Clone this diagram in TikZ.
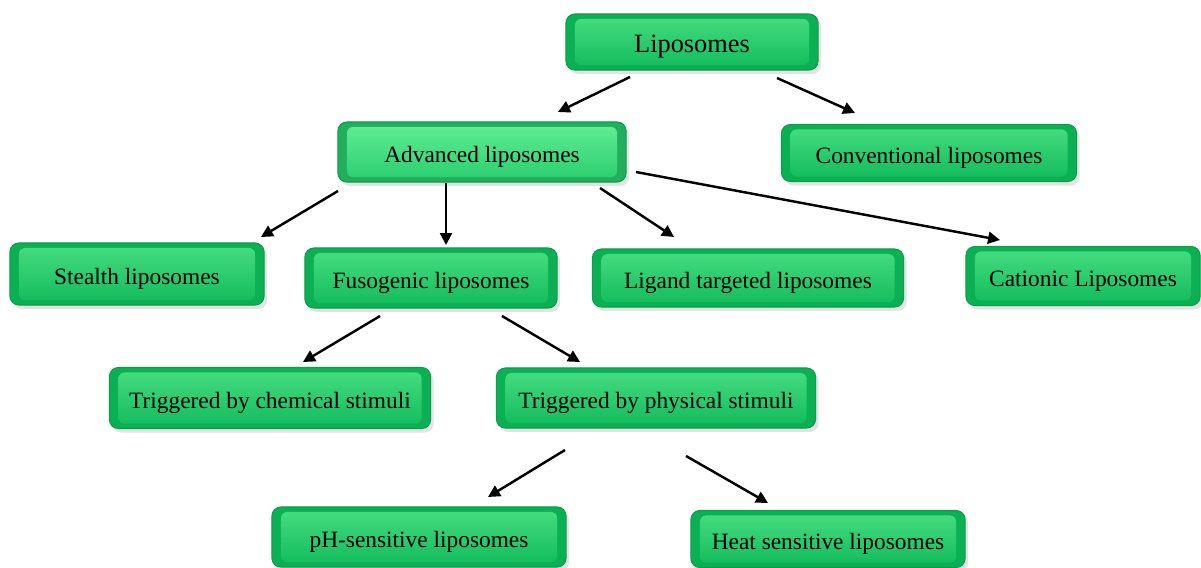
\documentclass[tikz,border=0pt]{standalone}
\usepackage{fontspec}
\setmainfont{Liberation Serif}
\usetikzlibrary{arrows.meta,shadows}
\definecolor{gbase}{RGB}{12,176,84}
\definecolor{gtop}{RGB}{72,222,130}
\definecolor{gbot}{RGB}{16,186,90}
\definecolor{gedge}{RGB}{8,160,76}
\definecolor{ltop}{RGB}{100,238,150}
\definecolor{lbot}{RGB}{40,205,110}
\tikzset{
  box/.style={rounded corners=0.09cm, fill=gbase, draw=gedge, line width=0.3pt,
    drop shadow={opacity=0.22, shadow xshift=0.03cm, shadow yshift=-0.04cm},
    inner sep=0pt, font=\fontsize{6.65pt}{8pt}\selectfont, text=black,
    text height=1.25ex, text depth=0pt,
    path picture={\shade[top color=gtop, bottom color=gbot, rounded corners=0.06cm]
      ([xshift=0.09cm,yshift=-0.05cm]path picture bounding box.north west) rectangle
      ([xshift=-0.09cm,yshift=0.05cm]path picture bounding box.south east);}},
  light/.style={fill=lbot!85!black,
    path picture={\shade[top color=ltop, bottom color=lbot, rounded corners=0.06cm]
      ([xshift=0.09cm,yshift=-0.05cm]path picture bounding box.north west) rectangle
      ([xshift=-0.09cm,yshift=0.05cm]path picture bounding box.south east);}},
  big/.style={font=\fontsize{7.5pt}{9pt}\selectfont},
  arr/.style={-{Triangle[length=3.4pt,width=3.4pt]}, line width=0.7pt, black}
}
\begin{document}
\begin{tikzpicture}[x=0.01cm,y=-0.01cm]
\useasboundingbox (0,0) rectangle (1201,567);
\node[box,big,minimum width=2.52cm,minimum height=0.56cm] (lip) at (692,42) {Liposomes};
\node[box,light,minimum width=2.88cm,minimum height=0.60cm] (adv) at (482,152) {Advanced liposomes};
\node[box,minimum width=2.95cm,minimum height=0.57cm] (conv) at (929,153) {Conventional liposomes};
\node[box,minimum width=2.54cm,minimum height=0.62cm] (stealth) at (137,274) {Stealth liposomes};
\node[box,minimum width=2.52cm,minimum height=0.60cm] (fuso) at (431,278) {Fusogenic liposomes};
\node[box,minimum width=3.11cm,minimum height=0.58cm] (lig) at (748,278) {Ligand targeted liposomes};
\node[box,minimum width=2.34cm,minimum height=0.59cm] (cat) at (1083,276) {Cationic Liposomes};
\node[box,minimum width=3.21cm,minimum height=0.61cm] (chem) at (270,398) {Triggered by chemical stimuli};
\node[box,minimum width=3.19cm,minimum height=0.60cm] (phys) at (656,398) {Triggered by physical stimuli};
\node[box,minimum width=2.94cm,minimum height=0.60cm] (ph) at (419,537) {pH-sensitive liposomes};
\node[box,minimum width=2.74cm,minimum height=0.57cm] (heat) at (828,539) {Heat sensitive liposomes};
% arrow end points
\coordinate (a1s) at (630,77);  \coordinate (a1e) at (558,112);
\coordinate (a2s) at (777,78);  \coordinate (a2e) at (855,113);
\coordinate (a3s) at (338,191); \coordinate (a3e) at (261,237);
\coordinate (a4s) at (446,183); \coordinate (a4e) at (446,245);
\coordinate (a5s) at (600,188); \coordinate (a5e) at (674,237);
\coordinate (a6s) at (636,172); \coordinate (a6e) at (1000,240);
\coordinate (a7s) at (380,316); \coordinate (a7e) at (303,362);
\coordinate (a8s) at (502,316); \coordinate (a8e) at (580,362);
\coordinate (a9s) at (565,450); \coordinate (a9e) at (488,497);
\coordinate (a10s) at (686,456); \coordinate (a10e) at (768,503);
\draw[arr] (a1s) -- (a1e);
\draw[arr] (a2s) -- (a2e);
\draw[arr] (a3s) -- (a3e);
\draw[arr] (a4s) -- (a4e);
\draw[arr] (a5s) -- (a5e);
\draw[arr] (a6s) -- (a6e);
\draw[arr] (a7s) -- (a7e);
\draw[arr] (a8s) -- (a8e);
\draw[arr] (a9s) -- (a9e);
\draw[arr] (a10s) -- (a10e);
\end{tikzpicture}
\end{document}
